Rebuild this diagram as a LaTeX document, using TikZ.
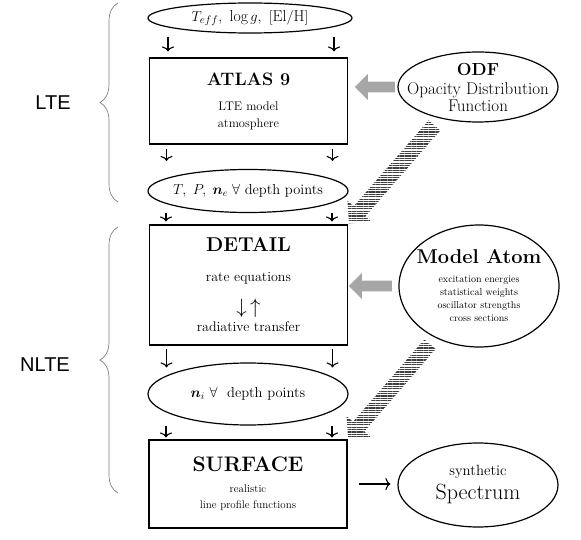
\documentclass[tikz,border=0pt]{standalone}
\usepackage{fontspec}
\usepackage{amsmath}
\usepackage{bm}
\usepackage{tikz}
\usetikzlibrary{positioning}
\usetikzlibrary{arrows.meta,shapes,shapes.arrows}
\usetikzlibrary{decorations.pathreplacing}
\usetikzlibrary{patterns,patterns.meta}
\usetikzlibrary{calc}
\newfontfamily\lblfont{Liberation Sans}
\newcommand{\boxtitle}[2]{{\fontsize{#1}{#1}\selectfont\bfseries #2}}

\begin{document}
\begin{tikzpicture}[x=1pt,y=-1pt,
  box/.style={draw, line width=1.1pt, rectangle, minimum width=198pt, align=center, inner sep=0pt},
  oval/.style={draw, line width=1.2pt, ellipse, inner xsep=-50pt, inner ysep=-20pt, align=center},
  flow/.style={line width=1.1pt, -{To[length=5pt,width=12pt]}},
  fatarrow/.style={single arrow, fill=gray!70, inner sep=5pt, minimum width=26pt, sloped, allow upside down},
  striparrow/.style={single arrow, pattern={Lines[angle=0,distance=2.4pt,line width=1.3pt]}, pattern color=black!75, inner sep=6pt, minimum width=32pt, sloped, allow upside down},
  brc/.style={decorate, decoration={brace, amplitude=18pt}, gray, line width=0.7pt},
  lbl/.style={font=\lblfont\fontsize{20}{20}\selectfont}]

\useasboundingbox (0,0) rectangle (581,540);

% braces and labels
\draw[brc] (118,202) -- (118,3);
\draw[brc] (118,493) -- (118,227);
\node[lbl] (lte) at (53,103) {LTE};
\node[lbl] (nlte) at (45,365) {NLTE};

% main column
\node[oval, minimum width=204pt, minimum height=30pt, font=\fontsize{15.8}{17}\selectfont] (teff) at (250,18)
  {$T_{eff},\ \log g,\ [\mathrm{El/H}]$};
\node[box, minimum height=86pt, font=\fontsize{12.5}{17}\selectfont] (atlas) at (248.5,101)
  {\boxtitle{18}{ATLAS 9}\\[8pt] LTE model\\ atmosphere};
\node[oval, minimum width=200pt, minimum height=43pt, font=\fontsize{14.5}{17}\selectfont] (tpne) at (248,191)
  {$T,\;P,\;\bm{n}_e\;\forall$\ depth points};
\node[box, minimum height=120pt, font=\fontsize{14}{16}\selectfont] (detail) at (248.5,285)
  {\boxtitle{20}{DETAIL}\\[14pt] rate equations\\[14pt] {\fontsize{20}{20}\selectfont$\downarrow\,\uparrow$}\\[2pt] radiative transfer};
\node[oval, minimum width=200pt, minimum height=62pt, font=\fontsize{14.5}{17}\selectfont] (ni) at (248,394)
  {$\bm{n}_i\ \forall$\ \ depth points};
\node[box, minimum height=88pt, font=\fontsize{11}{13}\selectfont] (surface) at (248,484)
  {\boxtitle{21}{SURFACE}\\[8pt] realistic\\[3pt] {\fontsize{11}{12}\selectfont line profile functions}};

% right column
\node[oval, minimum width=160pt, minimum height=70pt, font=\fontsize{17}{17}\selectfont] (odf) at (478,87)
  {\boxtitle{17.5}{ODF}\\[2pt] Opacity Distribution\\ Function};
\node[oval, minimum width=160pt, minimum height=122pt, font=\fontsize{10}{13}\selectfont] (atom) at (479,286)
  {\boxtitle{20}{Model Atom}\\[6pt] excitation energies\\ statistical weights\\ oscillator strengths\\ cross sections};
\node[oval, minimum width=160pt, minimum height=84pt, font=\fontsize{22}{24}\selectfont] (spectrum) at (478,485)
  {{\fontsize{14.8}{14}\selectfont synthetic}\\ Spectrum};

% down arrows
\foreach \a/\b/\s/\e in {teff/atlas/3/6, atlas/tpne/4/8, tpne/detail/0/3, detail/ni/3/-5, ni/surface/0/2}
  \foreach \dx in {-82,84}
    \draw[flow, shorten <=\s pt, shorten >=\e pt] ([xshift=\dx pt]\a.south) -- ([xshift=\dx pt]\a.south |- \b.north);

\draw[flow, shorten <=11pt, shorten >=7pt] (surface.east) -- (surface.east -| spectrum.west);

% big arrows
\path (odf.west) -- (odf.west -| atlas.east) node[fatarrow, pos=0.4, minimum height=40pt] {};
\path (atom.west) -- (atom.west -| detail.east) node[fatarrow, midway, minimum height=43pt] {};
\path (odf.220) -- (detail.north east) node[striparrow, midway, minimum height=130pt] {};
\path (atom.230) -- (surface.north east) node[striparrow, midway, minimum height=125pt] {};

\end{tikzpicture}
\end{document}
